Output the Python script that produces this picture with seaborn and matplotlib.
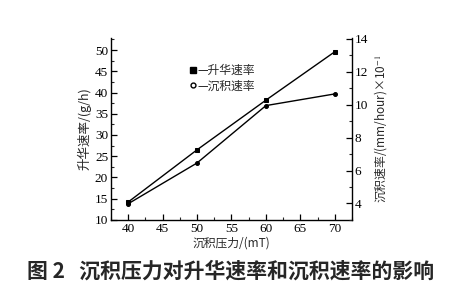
import matplotlib
matplotlib.use("Agg")
import matplotlib.pyplot as plt
import seaborn as sns
import pandas as pd
from matplotlib.ticker import MultipleLocator
from matplotlib.lines import Line2D

sns.set_theme(style="white")
plt.rcParams['font.family'] = ['Liberation Serif', 'Noto Sans CJK SC', 'DejaVu Sans']
plt.rcParams['mathtext.fontset'] = 'stix'

pressure = [40, 50, 60, 70]
sublimation_rate = [14.2, 26.5, 38.2, 49.6]
deposition_rate = [3.98, 6.46, 9.95, 10.66]

df = pd.DataFrame({"p": pressure, "s": sublimation_rate, "d": deposition_rate})

fig = plt.figure(figsize=(4.62, 2.98), dpi=100)
ax = fig.add_axes([0.240, 0.262, 0.522, 0.610])
ax2 = ax.twinx()

sns.lineplot(data=df, x="p", y="s", ax=ax, color="black", lw=1.0,
             marker="s", markersize=3, markeredgecolor="black")
sns.lineplot(data=df, x="p", y="d", ax=ax2, color="black", lw=1.0,
             marker="o", markersize=2.8, markeredgecolor="black")

ax.set_xlim(37.5, 72.5)
ax.set_ylim(10, 52.8)
ax2.set_ylim(3, 14.05)
ax.xaxis.set_major_locator(MultipleLocator(5))
ax.xaxis.set_minor_locator(MultipleLocator(2.5))
ax.yaxis.set_major_locator(MultipleLocator(5))
ax.yaxis.set_minor_locator(MultipleLocator(2.5))
ax2.set_yticks([4, 6, 8, 10, 12, 14])
ax2.yaxis.set_minor_locator(MultipleLocator(1))

for a in (ax, ax2):
    for s in a.spines.values():
        s.set_visible(False)
for s in ['left', 'bottom']:
    ax.spines[s].set_visible(True)
    ax.spines[s].set_color('black'); ax.spines[s].set_linewidth(1.0)
ax2.spines['right'].set_visible(True)
ax2.spines['right'].set_color('black'); ax2.spines['right'].set_linewidth(1.0)

ax.tick_params(axis='both', which='major', direction='in', length=4, width=0.9,
               labelsize=9.5, colors='black', pad=2, left=True, bottom=True)
ax.tick_params(axis='both', which='minor', direction='in', length=2, width=0.8,
               left=True, bottom=True)
ax2.tick_params(axis='y', which='major', direction='in', length=4, width=0.9,
                labelsize=9.5, colors='black', pad=2, right=True)
ax2.tick_params(axis='y', which='minor', direction='in', length=2, width=0.8, right=True)

cjk = ['Noto Sans CJK SC', 'DejaVu Sans']
ax.set_xlabel("沉积压力/(mT)", fontsize=8.5, labelpad=1, family=cjk)
ax.set_ylabel("升华速率/(g/h)", fontsize=9, labelpad=2, family=cjk)
ax2.set_ylabel("沉积速率/(mm/hour)×10$^{-1}$", fontsize=8.5, labelpad=3, family=cjk)

h1 = Line2D([], [], color='black', marker='s', linestyle='none', markersize=5)
h2 = Line2D([], [], color='black', marker='o', markerfacecolor='white',
            linestyle='none', markersize=3.5)
ax.legend([h1, h2], ["—升华速率", "—沉积速率"], loc='upper left',
          bbox_to_anchor=(0.30, 0.89), frameon=False, handlelength=0.6,
          handletextpad=0.1, labelspacing=0.2, borderpad=0,
          prop={'family': cjk, 'size': 8.5})

fig.text(0.5, 0.09, "图 2   沉积压力对升华速率和沉积速率的影响", ha='center', va='center',
         fontsize=15, fontweight='bold', family=cjk)

fig.savefig("out.png", dpi=100)
